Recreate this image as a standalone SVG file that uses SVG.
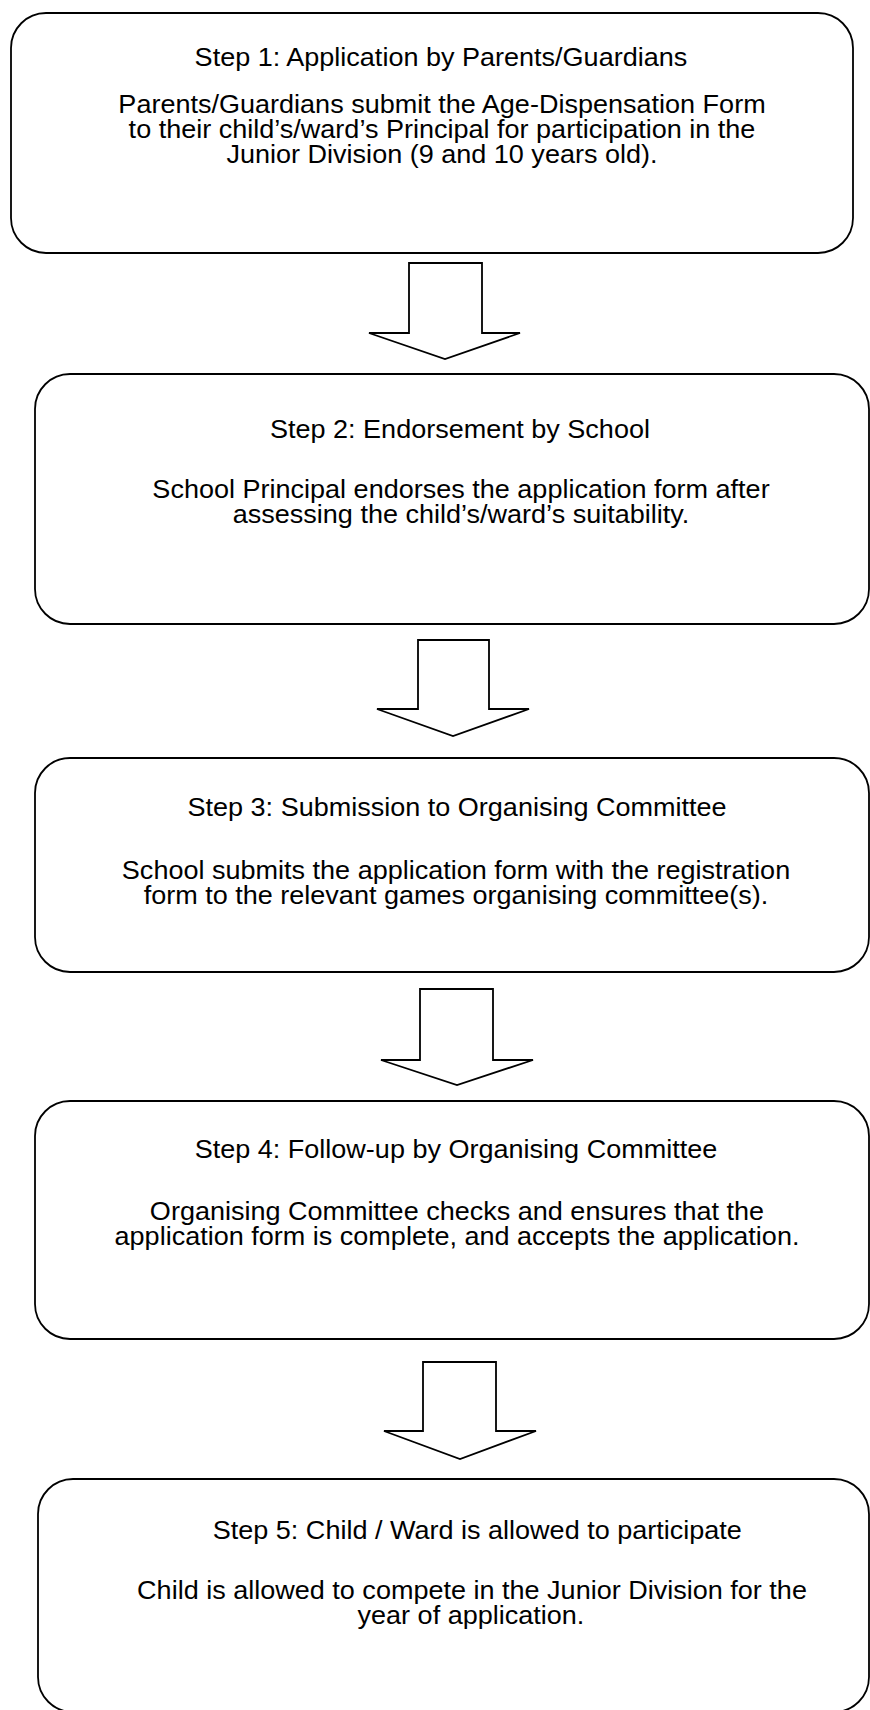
<svg xmlns="http://www.w3.org/2000/svg" width="870" height="1710" viewBox="0 0 870 1710">
<style>
.box{fill:#fff;stroke:#000;stroke-width:1.8}
.arr{fill:#fff;stroke:#000;stroke-width:1.8;stroke-linejoin:miter}
text{font-family:"Liberation Sans",Arial,sans-serif;font-size:25.5px;fill:#000;text-anchor:middle}
</style>
<rect width="870" height="1710" fill="#fff"/>
<g id="connectors">
<polygon class="arr" points="409,263 482,263 482,333 520,333 445,359 369,333 409,333"/>
<polygon class="arr" points="418,640 489,640 489,709 529,709 453,736 377,709 418,709"/>
<polygon class="arr" points="420,989 493,989 493,1060 533,1060 457,1085 381,1060 420,1060"/>
<polygon class="arr" points="423,1362 496,1362 496,1431 536,1431 460,1459 384,1431 423,1431"/>
</g>
<g id="step1">
<rect class="box" x="11" y="13" width="842" height="240" rx="35" ry="35"/>
<g transform="translate(442,0) scale(1.06,1)">
<text x="-1" y="66">Step 1: Application by Parents/Guardians</text>
<text x="0" y="113">Parents/Guardians submit the Age-Dispensation Form</text>
<text x="0" y="138">to their child’s/ward’s Principal for participation in the</text>
<text x="0" y="163">Junior Division (9 and 10 years old).</text>
</g>
</g>
<g id="step2">
<rect class="box" x="35" y="374" width="834" height="250" rx="35" ry="35"/>
<g transform="translate(461,0) scale(1.06,1)">
<text x="-1" y="438">Step 2: Endorsement by School</text>
<text x="0" y="498">School Principal endorses the application form after</text>
<text x="0" y="523">assessing the child’s/ward’s suitability.</text>
</g>
</g>
<g id="step3">
<rect class="box" x="35" y="758" width="834" height="214" rx="35" ry="35"/>
<g transform="translate(456,0) scale(1.06,1)">
<text x="1" y="816">Step 3: Submission to Organising Committee</text>
<text x="0" y="879">School submits the application form with the registration</text>
<text x="0" y="904">form to the relevant games organising committee(s).</text>
</g>
</g>
<g id="step4">
<rect class="box" x="35" y="1101" width="834" height="238" rx="35" ry="35"/>
<g transform="translate(457,0) scale(1.06,1)">
<text x="-1" y="1158">Step 4: Follow-up by Organising Committee</text>
<text x="0" y="1220">Organising Committee checks and ensures that the</text>
<text x="0" y="1245">application form is complete, and accepts the application.</text>
</g>
</g>
<g id="step5">
<rect class="box" x="38" y="1479" width="831" height="233" rx="35" ry="35"/>
<g transform="translate(472,0) scale(1.06,1)">
<text x="5" y="1539">Step 5: Child / Ward is allowed to participate</text>
<text x="0" y="1599">Child is allowed to compete in the Junior Division for the</text>
<text x="-1" y="1624">year of application.</text>
</g>
</g>
</svg>
